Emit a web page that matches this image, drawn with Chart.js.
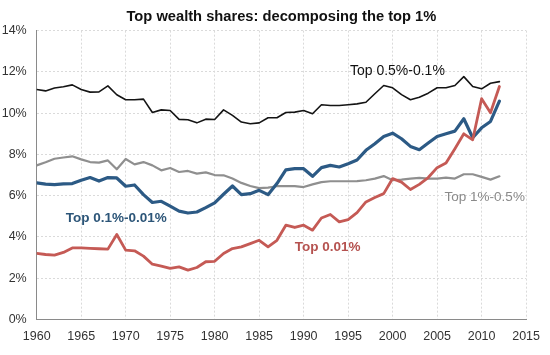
<!DOCTYPE html>
<html>
<head>
<meta charset="utf-8">
<script src="https://cdn.jsdelivr.net/npm/chart.js@4/dist/chart.umd.min.js"></script>
<style>
  html, body { margin: 0; padding: 0; background: #ffffff; }
  #wrap { width: 550px; height: 355px; }
</style>
</head>
<body>
<div id="wrap"><canvas id="c" width="550" height="355"></canvas></div>
<script>
// ---- data ----
const years = [];
for (let y = 1960; y <= 2012; y++) years.push(y);

const xTicks = [1960, 1965, 1970, 1975, 1980, 1985, 1990, 1995, 2000, 2005, 2010, 2015];
const yTicks = [0, 2, 4, 6, 8, 10, 12, 14];

const seriesNames = ["Top 0.5%-0.1%", "Top 1%-0.5%", "Top 0.1%-0.01%", "Top 0.01%"];

const top05to01 = [11.15, 11.08, 11.22, 11.28, 11.37, 11.15, 11.02, 11.03, 11.32, 10.89,
  10.65, 10.65, 10.68, 10.03, 10.16, 10.13, 9.70, 9.68, 9.53, 9.71,
  9.69, 10.16, 9.89, 9.57, 9.49, 9.53, 9.78, 9.78, 10.03, 10.05,
  10.13, 9.97, 10.41, 10.37, 10.37, 10.41, 10.45, 10.53, 10.94, 11.34,
  11.23, 10.90, 10.65, 10.77, 10.97, 11.23, 11.23, 11.34, 11.77, 11.29,
  11.18, 11.45, 11.53];

const top1to05 = [7.47, 7.62, 7.79, 7.85, 7.91, 7.76, 7.63, 7.60, 7.71, 7.28,
  7.78, 7.52, 7.63, 7.47, 7.23, 7.34, 7.15, 7.20, 7.07, 7.13,
  7.00, 6.99, 6.83, 6.62, 6.47, 6.37, 6.39, 6.46, 6.46, 6.46,
  6.42, 6.55, 6.66, 6.70, 6.70, 6.70, 6.71, 6.75, 6.83, 6.95,
  6.75, 6.78, 6.83, 6.86, 6.83, 6.83, 6.88, 6.83, 7.04, 7.04,
  6.91, 6.78, 6.94];

const top01to001 = [6.62, 6.56, 6.54, 6.57, 6.59, 6.75, 6.88, 6.71, 6.88, 6.86,
  6.46, 6.52, 6.05, 5.67, 5.73, 5.49, 5.25, 5.16, 5.21, 5.42,
  5.65, 6.07, 6.47, 6.05, 6.10, 6.26, 6.05, 6.59, 7.25, 7.31,
  7.31, 6.94, 7.36, 7.47, 7.39, 7.55, 7.73, 8.20, 8.52, 8.87,
  9.03, 8.76, 8.39, 8.23, 8.55, 8.87, 9.00, 9.13, 9.73, 8.81,
  9.29, 9.60, 10.58];

const top001 = [3.20, 3.15, 3.12, 3.25, 3.47, 3.47, 3.45, 3.43, 3.41, 4.12,
  3.36, 3.33, 3.07, 2.68, 2.59, 2.48, 2.55, 2.39, 2.52, 2.80,
  2.82, 3.20, 3.44, 3.52, 3.68, 3.84, 3.52, 3.84, 4.57, 4.46,
  4.57, 4.33, 4.92, 5.09, 4.73, 4.84, 5.18, 5.70, 5.91, 6.10,
  6.83, 6.66, 6.30, 6.55, 6.88, 7.36, 7.58, 8.28, 9.00, 8.71,
  10.70, 10.02, 11.29];

// label anchors in data units (year, percent)
const labelYears = [1995.2, 2005.84, 1963.26, 1989.0];
const labelValues = [12.03, 5.94, 4.89, 3.52];

// ---- styling ----
const FONT = "'Liberation Sans', Arial, Helvetica, sans-serif";
Chart.defaults.font.family = FONT;

const colors = ['#141414', '#8f8f8f', '#2c5a85', '#c55a55'];
const labelColors = ['#111111', '#8a8a8a', '#2c5578', '#b5524f'];
const labelFonts = ['14px', '13.5px', 'bold 13.5px', 'bold 13.5px'];
const widths = [1.6, 2.2, 3.2, 2.8];

const seriesData = [top05to01, top1to05, top01to001, top001];

function toPoints(arr) { return years.map((yr, i) => ({ x: yr, y: arr[i] })); }

const datasets = seriesData.map((arr, i) => ({
  label: seriesNames[i],
  data: toPoints(arr),
  borderColor: colors[i],
  backgroundColor: colors[i],
  borderWidth: widths[i],
  pointRadius: 0,
  tension: 0,
  fill: false,
  borderJoinStyle: 'round',
  borderCapStyle: 'round'
}));
datasets[0].order = 0; datasets[3].order = 1; datasets[2].order = 2; datasets[1].order = 3;

const seriesLabels = {
  id: 'seriesLabels',
  afterDatasetsDraw(chart) {
    const { ctx, scales: { x, y } } = chart;
    ctx.save();
    ctx.textAlign = 'left';
    ctx.textBaseline = 'middle';
    seriesNames.forEach((name, i) => {
      ctx.font = labelFonts[i] + ' ' + FONT;
      ctx.fillStyle = labelColors[i];
      ctx.fillText(name, x.getPixelForValue(labelYears[i]), y.getPixelForValue(labelValues[i]));
    });
    ctx.restore();
  }
};

new Chart(document.getElementById('c'), {
  type: 'line',
  data: { datasets },
  options: {
    responsive: false,
    animation: false,
    devicePixelRatio: 1,
    layout: { padding: { left: 0, right: 18.3, top: 0, bottom: 0 } },
    plugins: {
      legend: { display: false },
      tooltip: { enabled: false },
      title: {
        display: true,
        fullSize: false,
        text: 'Top wealth shares: decomposing the top 1%',
        color: '#111111',
        font: { size: 14.7, weight: 'bold', family: FONT },
        padding: { top: 8, bottom: 5 }
      }
    },
    scales: {
      x: {
        type: 'linear',
        min: xTicks[0],
        max: xTicks[xTicks.length - 1],
        afterBuildTicks(s) { s.ticks = xTicks.map(v => ({ value: v })); },
        ticks: {
          callback: v => String(v),
          padding: 10,
          color: '#333333',
          font: { size: 12.5 },
          maxRotation: 0,
          autoSkip: false
        },
        grid: { color: '#dadada', lineWidth: 1, drawTicks: false },
        border: { color: '#8a8a8a', width: 1, dash: [2, 2] },
        afterFit(s) { s.height = 35.5; }
      },
      y: {
        min: yTicks[0],
        max: yTicks[yTicks.length - 1],
        afterBuildTicks(s) { s.ticks = yTicks.map(v => ({ value: v })); },
        ticks: {
          callback: v => v + '%',
          padding: 10,
          color: '#333333',
          font: { size: 12.5 }
        },
        grid: { color: '#dadada', lineWidth: 1, drawTicks: false },
        border: { color: '#8a8a8a', width: 1, dash: [2, 2] },
        afterFit(s) { s.width = 36.7; }
      }
    }
  },
  plugins: [seriesLabels]
});
</script>
</body>
</html>
